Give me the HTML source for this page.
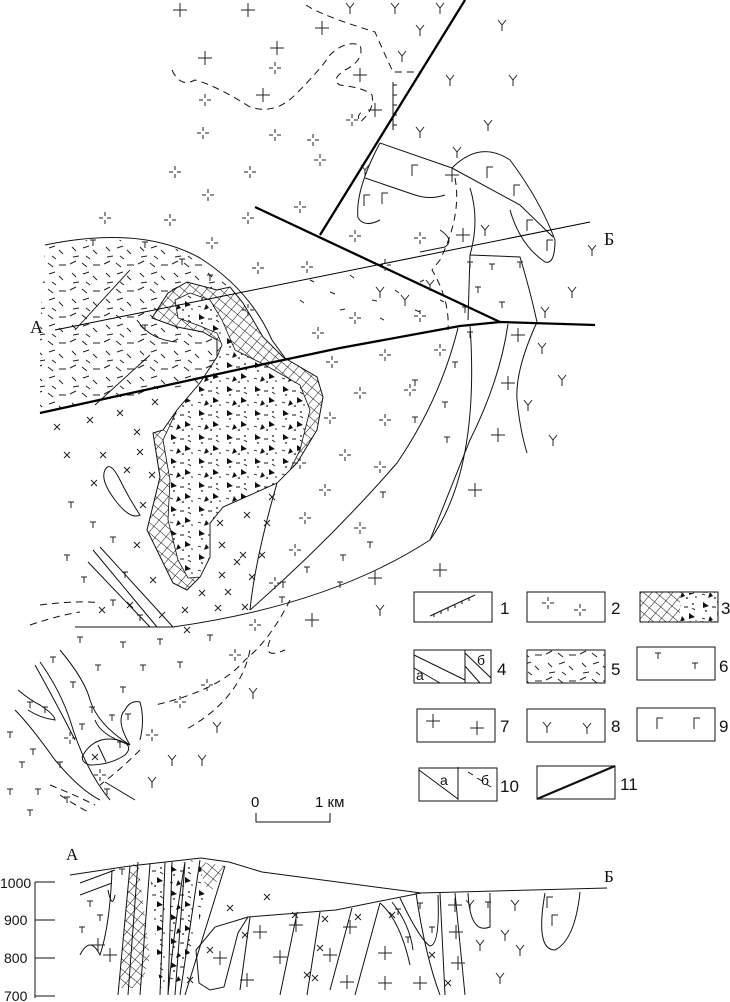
<!DOCTYPE html>
<html><head><meta charset="utf-8"><style>
html,body{margin:0;padding:0;background:#fff}
svg{display:block}
text{font-family:"Liberation Sans",sans-serif;fill:#111}
.s{font-family:"Liberation Serif",serif}
</style></head><body>
<svg width="730" height="1002" viewBox="0 0 730 1002" xmlns="http://www.w3.org/2000/svg">
<defs>
<pattern id="hx" width="8" height="8" patternUnits="userSpaceOnUse" patternTransform="rotate(40)">
<rect width="8" height="8" fill="#fff"/><path d="M0 0V8M0 0H8" stroke="#111" stroke-width="1"/></pattern>
<pattern id="tri" width="28" height="24" patternUnits="userSpaceOnUse">
<rect width="28" height="24" fill="#fff"/>
<path d="M3 2l6 4-6 2z M17 13l6 4-6 2z M10 16l-2 6 5-2z" fill="#111"/>
<circle cx="6" cy="11" r="0.9" fill="#111"/><circle cx="21" cy="4" r="0.9" fill="#111"/><circle cx="15" cy="22" r="0.9" fill="#111"/><circle cx="24" cy="21" r="0.8" fill="#111"/>
<path d="M12 7h4M2 18l3 1M20 8l3 2" stroke="#111" stroke-width="0.9"/></pattern>
<pattern id="dsh" width="34" height="26" patternUnits="userSpaceOnUse">
<rect width="34" height="26" fill="#fff"/>
<path d="M2 4l6-3M14 3l5 4M25 5h7M4 13l4 4M15 14l6-2M25 16l4 4M5 23l6-1M18 22l4 3" stroke="#222" stroke-width="1"/></pattern>
<g id="dc"><path d="M-6 0h4M2 0h4M0 -6v4M0 2v4" stroke="#222" stroke-width="1"/></g>
<g id="pl"><path d="M-7 0h14M0 -7v14" stroke="#222" stroke-width="1"/></g>
<g id="y"><path d="M-4 -5L0 0L4 -5M0 0v6" stroke="#222" stroke-width="1" fill="none"/></g>
<g id="t"><path d="M-3 -3h6M0 -3v6" stroke="#222" stroke-width="1"/></g>
<g id="x"><path d="M-3 -3l6 6M3 -3l-6 6" stroke="#222" stroke-width="1"/></g>
<g id="g"><path d="M-3 6V-5h6" stroke="#222" stroke-width="1" fill="none"/></g>
</defs>

<path d="M45 245 Q120 232 180 250 Q215 268 243 303 L230 290 L217 290 L187 282 L168 293 L152 318 L177 327 L203 332 L217 340 L217 357 L200 383 L40 413 L40 330 Z" fill="url(#dsh)"/>
<path d="M45 245 Q140 225 200 258 Q250 290 272 340 L285 358" fill="none" stroke="#111" stroke-width="1"/>
<path d="M75 330 L130 270 M95 405 L150 355 M137 320 Q150 340 177 342" fill="none" stroke="#111" stroke-width="0.9"/>
<path d="M310 280l4 2M330 292l5 2M350 275l4 3M372 300l5 1M395 290l4 3M415 310l5 2M440 300l4 2M340 310l5-1M300 300l4 3M380 318l4 2M420 282l4-2" stroke="#222" stroke-width="1"/>

<path d="M152 318 L168 293 L187 282 L217 290 L230 287 L243 303 L263 337 L283 357 L317 377 L323 397 L317 430 L297 463 L277 483 L223 507 L210 523 L210 557 L200 577 L187 590 L173 583 L147 530 L160 477 L153 433 L163 430 L177 410 L200 383 L217 357 L217 340 L203 332 L177 327 Z" fill="url(#hx)" stroke="#111" stroke-width="1"/>
<path d="M175 300 L190 293 L210 300 L222 320 L235 350 L265 365 L300 385 L310 410 L300 450 L290 470 L277 483 L223 507 L210 523 L210 557 L200 577 L188 578 L178 560 L168 520 L170 480 L163 440 L177 410 L200 383 L217 357 L222 345 L217 333 L200 326 L178 318 Z" fill="url(#tri)" stroke="#111" stroke-width="0.8"/>

<g fill="none" stroke="#111" stroke-width="1">
<path d="M75 627 L173 627 Q330 605 430 540 Q480 470 470 325"/>
<path d="M250 610 Q330 540 397 463 Q440 400 458 328"/>
<path d="M277 483 Q255 560 250 610"/>
<path d="M508 324 Q500 380 470 440 Q450 490 430 540"/>
<path d="M537 322 Q515 370 517 400 Q520 430 527 453"/>
<path d="M93 550 L157 627 M100 547 L173 627 M88 562 L150 627"/>
<path d="M105 470 Q110 460 120 480 Q130 500 140 515 Q130 520 115 500 Q100 480 105 470Z"/>
<path d="M380 143 L452 168 L520 205 L553 237"/>
<path d="M380 143 Q355 190 358 218 Q365 228 380 220"/>
<path d="M365 178 Q400 190 415 195 Q430 200 445 195"/>
<path d="M452 168 Q480 140 510 160 Q540 200 555 240 Q555 265 545 262 Q520 245 510 210"/>
<path d="M470 188 Q480 220 470 255 L468 320"/>
<path d="M470 255 L520 257 Q530 290 537 322"/>
<path d="M440 230 Q455 240 445 247 L420 252"/>
<path d="M40 662 Q60 690 70 720 Q85 770 110 800 M35 665 Q60 710 75 740 M60 650 Q85 680 90 700 Q98 725 130 745 Q100 735 95 720 M15 710 Q30 725 55 760 Q80 790 100 800 M18 690 Q30 700 40 705 Q55 715 55 720 Q40 718 28 710"/>
<path d="M130 745 Q115 720 125 710 Q130 700 140 702 Q145 720 140 740"/>
<path d="M83 755 Q95 735 118 740 Q135 745 125 755 Q110 765 90 765 Q80 762 83 755Z M98 745 L106 762"/>
<path d="M105 782 L135 800"/>
</g>

<g fill="none" stroke="#111" stroke-width="1" stroke-dasharray="7,5">
<path d="M172 70 Q180 88 195 80 Q215 85 250 107 Q275 115 295 95 Q320 70 330 55 Q345 40 360 45 Q365 60 345 70 Q330 80 340 85 Q365 88 372 95 Q375 110 360 122 Q355 115 365 110"/>
<path d="M306 5 Q320 15 375 32 Q385 55 393 72 L420 72"/>
<path d="M455 178 Q462 215 440 260 L432 270 Q450 300 448 330"/>
<path d="M290 600 Q270 640 245 660 Q220 690 155 705 M270 640 Q262 660 285 650 M250 650 Q240 700 185 730 M140 750 Q120 770 100 785"/>
<path d="M40 605 Q80 600 100 603 M30 625 Q60 615 80 612"/>
<path d="M50 785 Q75 795 95 805 M60 795 Q75 805 90 813"/>
</g>

<g fill="none" stroke="#000" stroke-width="2.3">
<path d="M40 413 L250 367 L340 348 L460 326 L500 322 L595 325"/>
<path d="M255 207 L500 322"/>
<path d="M320 235 L465 0"/>
</g>
<path d="M55 330 L590 222" fill="none" stroke="#000" stroke-width="1"/>
<path d="M393 82 V130 M393 85h4M393 95h4M393 105h4M393 115h4M393 125h4" stroke="#111" stroke-width="1"/>
<text x="30" y="333" class="s" font-size="18">А</text>
<text x="604" y="245" class="s" font-size="18">Б</text>

<g>
<use href="#pl" x="180" y="10"/><use href="#pl" x="248" y="10"/><use href="#pl" x="205" y="58"/><use href="#pl" x="263" y="95"/><use href="#pl" x="322" y="28"/><use href="#pl" x="277" y="48"/><use href="#pl" x="360" y="75"/><use href="#pl" x="375" y="110"/><use href="#pl" x="452" y="175"/><use href="#pl" x="463" y="235"/>
<use href="#pl" x="518" y="335"/><use href="#pl" x="508" y="383"/><use href="#pl" x="498" y="435"/><use href="#pl" x="475" y="490"/><use href="#pl" x="375" y="578"/><use href="#pl" x="312" y="620"/><use href="#pl" x="440" y="570"/>
<use href="#y" x="350" y="8"/><use href="#y" x="395" y="8"/><use href="#y" x="440" y="8"/><use href="#y" x="420" y="30"/><use href="#y" x="502" y="25"/><use href="#y" x="402" y="56"/><use href="#y" x="450" y="80"/><use href="#y" x="513" y="80"/><use href="#y" x="420" y="132"/><use href="#y" x="488" y="125"/><use href="#y" x="457" y="152"/><use href="#y" x="592" y="250"/><use href="#y" x="572" y="292"/><use href="#y" x="545" y="312"/><use href="#y" x="542" y="348"/><use href="#y" x="562" y="380"/><use href="#y" x="528" y="405"/><use href="#y" x="553" y="440"/><use href="#y" x="380" y="610"/><use href="#y" x="253" y="693"/><use href="#y" x="217" y="727"/><use href="#y" x="172" y="760"/><use href="#y" x="202" y="760"/><use href="#y" x="152" y="782"/><use href="#y" x="485" y="230"/><use href="#y" x="380" y="292"/><use href="#y" x="365" y="170"/><use href="#y" x="405" y="300"/><use href="#y" x="430" y="285"/>
<use href="#g" x="415" y="170"/><use href="#g" x="490" y="172"/><use href="#g" x="385" y="198"/><use href="#g" x="517" y="190"/><use href="#g" x="530" y="225"/><use href="#g" x="550" y="245"/><use href="#g" x="367" y="200"/>
</g>
<g>
<use href="#dc" x="205" y="100"/><use href="#dc" x="275" y="68"/><use href="#dc" x="203" y="133"/><use href="#dc" x="275" y="135"/><use href="#dc" x="313" y="140"/><use href="#dc" x="175" y="172"/><use href="#dc" x="250" y="172"/><use href="#dc" x="208" y="195"/><use href="#dc" x="170" y="220"/><use href="#dc" x="248" y="218"/><use href="#dc" x="212" y="243"/><use href="#dc" x="320" y="160"/><use href="#dc" x="300" y="207"/><use href="#dc" x="307" y="267"/><use href="#dc" x="258" y="268"/><use href="#dc" x="355" y="236"/><use href="#dc" x="420" y="238"/><use href="#dc" x="385" y="265"/><use href="#dc" x="248" y="310"/><use href="#dc" x="318" y="333"/><use href="#dc" x="355" y="318"/><use href="#dc" x="420" y="316"/><use href="#dc" x="105" y="218"/><use href="#dc" x="352" y="120"/>
<use href="#dc" x="332" y="362"/><use href="#dc" x="385" y="355"/><use href="#dc" x="440" y="350"/><use href="#dc" x="360" y="393"/><use href="#dc" x="410" y="390"/><use href="#dc" x="330" y="418"/><use href="#dc" x="385" y="420"/><use href="#dc" x="345" y="455"/><use href="#dc" x="300" y="463"/><use href="#dc" x="325" y="490"/><use href="#dc" x="380" y="467"/><use href="#dc" x="305" y="518"/><use href="#dc" x="360" y="528"/><use href="#dc" x="295" y="550"/><use href="#dc" x="275" y="583"/><use href="#dc" x="255" y="625"/><use href="#dc" x="235" y="655"/><use href="#dc" x="207" y="685"/><use href="#dc" x="180" y="702"/><use href="#dc" x="152" y="735"/><use href="#dc" x="70" y="738"/><use href="#dc" x="100" y="775"/>
</g>
<g>
<use href="#t" x="93" y="243"/><use href="#t" x="145" y="245"/><use href="#t" x="182" y="262"/><use href="#t" x="210" y="278"/><use href="#t" x="145" y="328"/>
<use href="#t" x="470" y="265"/><use href="#t" x="492" y="267"/><use href="#t" x="478" y="290"/><use href="#t" x="465" y="310"/><use href="#t" x="502" y="305"/><use href="#t" x="520" y="265"/>
<use href="#t" x="470" y="335"/><use href="#t" x="455" y="365"/><use href="#t" x="445" y="405"/><use href="#t" x="415" y="383"/><use href="#t" x="447" y="440"/><use href="#t" x="415" y="420"/><use href="#t" x="383" y="495"/><use href="#t" x="370" y="545"/><use href="#t" x="343" y="558"/><use href="#t" x="307" y="570"/><use href="#t" x="283" y="585"/><use href="#t" x="340" y="585"/><use href="#t" x="282" y="600"/>
<use href="#t" x="71" y="505"/><use href="#t" x="93" y="525"/><use href="#t" x="113" y="540"/><use href="#t" x="67" y="558"/><use href="#t" x="84" y="580"/><use href="#t" x="125" y="575"/><use href="#t" x="113" y="603"/><use href="#t" x="140" y="618"/>
<use href="#t" x="80" y="640"/><use href="#t" x="123" y="645"/><use href="#t" x="160" y="642"/><use href="#t" x="210" y="638"/><use href="#t" x="53" y="660"/><use href="#t" x="98" y="668"/><use href="#t" x="143" y="668"/><use href="#t" x="180" y="665"/><use href="#t" x="73" y="685"/><use href="#t" x="123" y="690"/><use href="#t" x="30" y="705"/><use href="#t" x="92" y="710"/><use href="#t" x="45" y="710"/><use href="#t" x="82" y="727"/><use href="#t" x="112" y="718"/><use href="#t" x="128" y="717"/><use href="#t" x="120" y="745"/><use href="#t" x="10" y="735"/><use href="#t" x="33" y="752"/><use href="#t" x="22" y="765"/><use href="#t" x="60" y="765"/><use href="#t" x="10" y="792"/><use href="#t" x="38" y="792"/><use href="#t" x="67" y="800"/><use href="#t" x="30" y="813"/><use href="#t" x="107" y="792"/>
</g>
<g>
<use href="#x" x="57" y="427"/><use href="#x" x="90" y="420"/><use href="#x" x="120" y="413"/><use href="#x" x="155" y="402"/><use href="#x" x="137" y="432"/><use href="#x" x="140" y="452"/><use href="#x" x="67" y="455"/><use href="#x" x="103" y="455"/><use href="#x" x="127" y="470"/><use href="#x" x="152" y="475"/><use href="#x" x="94" y="483"/><use href="#x" x="143" y="505"/><use href="#x" x="137" y="545"/><use href="#x" x="153" y="580"/><use href="#x" x="130" y="605"/><use href="#x" x="102" y="610"/><use href="#x" x="187" y="630"/>
<use href="#x" x="272" y="497"/><use href="#x" x="247" y="515"/><use href="#x" x="220" y="523"/><use href="#x" x="267" y="523"/><use href="#x" x="243" y="555"/><use href="#x" x="222" y="545"/><use href="#x" x="262" y="555"/><use href="#x" x="237" y="562"/><use href="#x" x="222" y="575"/><use href="#x" x="252" y="577"/><use href="#x" x="202" y="593"/><use href="#x" x="228" y="592"/><use href="#x" x="245" y="607"/><use href="#x" x="218" y="608"/><use href="#x" x="185" y="610"/><use href="#x" x="162" y="615"/><use href="#x" x="95" y="757"/>
</g>

<g fill="#fff" stroke="#111" stroke-width="1">
<rect x="414" y="592" width="78" height="30"/><rect x="527" y="592" width="78" height="30"/><rect x="640" y="592" width="78" height="30" fill="url(#hx)"/>
<rect x="414" y="650" width="77" height="33"/><rect x="527" y="650" width="78" height="33" fill="url(#dsh)"/><rect x="637" y="647" width="78" height="33"/>
<rect x="417" y="709" width="78" height="33"/><rect x="527" y="709" width="78" height="33"/><rect x="637" y="708" width="78" height="33"/>
<rect x="419" y="768" width="78" height="33"/><rect x="537" y="766" width="78" height="33"/>
</g>
<rect x="680" y="593" width="37" height="28" fill="url(#tri)"/>
<g stroke="#111" stroke-width="1" fill="none">
<path d="M430 616 L475 595 M434 614v3M441 611v3M448 608v3M455 605v3M462 601v3M469 598v3"/>
<path d="M465 650v33 M414 655 L465 680 M414 668 L440 683 M465 653 L491 678 M465 666 L480 683"/>
<path d="M458 767v33 M419 770 L458 799 M468 772 l5 3 M477 778l5 3 M486 784l5 3"/>
<path d="M537 799 L615 766" stroke-width="2.3"/>
</g>
<use href="#dc" x="548" y="603"/><use href="#dc" x="580" y="610"/>
<use href="#t" x="658" y="656"/><use href="#t" x="695" y="666"/>
<use href="#pl" x="433" y="721"/><use href="#pl" x="477" y="728"/>
<use href="#y" x="547" y="727"/><use href="#y" x="587" y="728"/>
<use href="#g" x="660" y="723"/><use href="#g" x="697" y="723"/>
<g class="s" font-size="17">
<text x="500" y="614">1</text><text x="611" y="614">2</text><text x="721" y="614">3</text>
<text x="497" y="675">4</text><text x="611" y="675">5</text><text x="719" y="672">6</text>
<text x="500" y="732">7</text><text x="611" y="732">8</text><text x="719" y="732">9</text>
<text x="500" y="792">10</text><text x="620" y="790">11</text>
<text x="416" y="680" font-size="14">а</text><text x="477" y="665" font-size="14">б</text>
<text x="440" y="785" font-size="14">а</text><text x="481" y="785" font-size="14">б</text>
</g>
<text x="251" y="807" font-size="15">0</text><text x="315" y="807" font-size="15">1 км</text>
<path d="M256 813v9h74v-9" stroke="#111" fill="none"/>

<text x="66" y="860" class="s" font-size="17">А</text>
<text x="604" y="882" class="s" font-size="17">Б</text>
<g class="s" font-size="14"><text x="0" y="888">1000</text><text x="4" y="925">900</text><text x="4" y="963">800</text><text x="4" y="1001">700</text></g>
<path d="M35 882h20 M35 882V998 M35 920h20 M35 958h20 M35 996h20" stroke="#111" fill="none"/>
<path d="M130 866 L138 862 L150 958 L140 988 L118 988Z" fill="url(#hx)"/>
<path d="M190 860 L225 866 L210 895 L200 872Z" fill="url(#hx)"/>
<path d="M150 868 L200 860 L205 900 L180 985 L160 988 L155 930Z" fill="url(#tri)"/>
<g fill="none" stroke="#111" stroke-width="1">
<path d="M70 875 L130 866 L201 858 L229 862 L262 872 L421 893 L607 888"/>
<path d="M421 893 L336 910 L248 917 L215 927 L196 950 L199 983 L210 990 L224 987 L238 933 L248 917"/>
<path d="M80 955 Q90 935 100 955 Q110 925 112 870 M108 890 Q112 910 115 895 M80 883 L115 870 M80 895 L112 883"/>
<path d="M130 866 L118 995 M138 862 L128 995 M150 864 L140 995 M165 862 L160 995 M172 862 L168 995 Q175 920 185 862 M185 862 L175 995 M200 860 L180 995 M225 866 L185 995"/>
<path d="M250 917 L240 990 M297 913 L280 995 M320 912 L307 995 M352 908 L330 990 M380 903 L355 995"/>
<path d="M380 903 Q400 920 410 965 M392 902 Q410 925 413 950 M400 898 Q420 940 430 946 Q440 945 438 895 M416 893 Q425 955 440 995 M440 893 L445 995 M455 893 L465 995 M468 893 Q470 935 490 927 L490 893 M545 893 Q535 950 555 950 Q575 940 580 892"/>
</g>
<g>
<use href="#x" x="230" y="908"/><use href="#x" x="267" y="897"/><use href="#x" x="295" y="915"/><use href="#x" x="325" y="919"/><use href="#x" x="358" y="917"/><use href="#x" x="392" y="915"/><use href="#x" x="245" y="935"/><use href="#x" x="210" y="950"/><use href="#x" x="320" y="948"/><use href="#x" x="315" y="978"/><use href="#x" x="307" y="975"/><use href="#x" x="432" y="955"/><use href="#x" x="448" y="983"/><use href="#x" x="190" y="980"/>
<use href="#pl" x="98" y="945"/><use href="#pl" x="110" y="955"/><use href="#pl" x="260" y="932"/><use href="#pl" x="296" y="925"/><use href="#pl" x="350" y="927"/><use href="#pl" x="220" y="958"/><use href="#pl" x="280" y="957"/><use href="#pl" x="330" y="955"/><use href="#pl" x="385" y="953"/><use href="#pl" x="247" y="980"/><use href="#pl" x="347" y="982"/><use href="#pl" x="385" y="983"/><use href="#pl" x="420" y="983"/><use href="#pl" x="455" y="905"/><use href="#pl" x="456" y="932"/><use href="#pl" x="458" y="963"/>
<use href="#t" x="90" y="904"/><use href="#t" x="100" y="918"/><use href="#t" x="82" y="930"/><use href="#t" x="122" y="872"/><use href="#t" x="398" y="912"/><use href="#t" x="420" y="906"/><use href="#t" x="432" y="930"/><use href="#t" x="408" y="940"/><use href="#t" x="488" y="905"/>
<use href="#y" x="470" y="905"/><use href="#y" x="515" y="905"/><use href="#y" x="480" y="945"/><use href="#y" x="505" y="935"/><use href="#y" x="520" y="950"/><use href="#y" x="500" y="978"/>
<use href="#g" x="550" y="902"/><use href="#g" x="555" y="920"/>
</g>
</svg>
</body></html>
